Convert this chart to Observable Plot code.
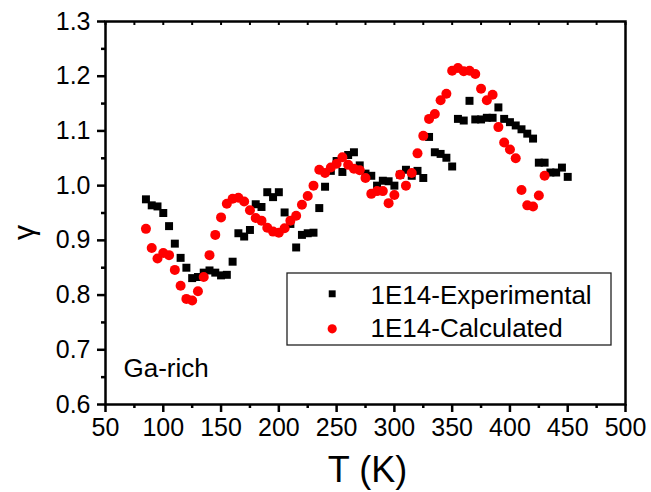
<!DOCTYPE html>
<html>
<head>
<meta charset="utf-8">
<script src="https://cdn.jsdelivr.net/npm/d3@7"></script>
<script src="https://cdn.jsdelivr.net/npm/@observablehq/plot@0.6"></script>
<style>
  body { margin: 0; background: #fff; }
  #chart svg { display: block; }
</style>
</head>
<body>
<div id="chart"></div>
<script>
// Experimental (black squares)
const expT = [85,90,95,100,105,110,115,120,125,130,135,140,145,150,155,160,165,170,175,180,185,190,195,200,205,210,215,220,225,230,235,240,245,250,255,260,265,270,275,280,285,290,295,300,305,310,315,320,325,330,335,340,345,350,355,360,365,370,375,380,385,390,395,400,405,410,415,420,425,430,435,440,445,450];
const expG = [0.975,0.964,0.962,0.950,0.926,0.894,0.868,0.850,0.831,0.833,0.841,0.845,0.841,0.836,0.837,0.861,0.913,0.907,0.919,0.966,0.961,0.988,0.979,0.988,0.951,0.930,0.887,0.910,0.913,0.914,0.959,0.998,1.027,1.045,1.025,1.056,1.061,1.037,1.022,1.018,1.000,1.009,1.008,1.000,1.020,1.029,1.018,1.027,1.014,1.089,1.061,1.058,1.051,1.035,1.122,1.119,1.155,1.121,1.121,1.124,1.124,1.143,1.122,1.116,1.110,1.103,1.095,1.086,1.042,1.042,1.024,1.024,1.033,1.016];

// Calculated (red circles)
const calT = [85,90,95,100,105,110,115,120,125,130,135,140,145,150,155,160,165,170,175,180,185,190,195,200,205,210,215,220,225,230,235,240,245,250,255,260,265,270,275,280,285,290,295,300,305,310,315,320,325,330,335,340,345,350,355,360,365,370,375,380,385,390,395,400,405,410,415,420,425,430];
const calG = [0.921,0.886,0.867,0.877,0.873,0.846,0.817,0.793,0.790,0.807,0.833,0.873,0.910,0.942,0.967,0.976,0.978,0.971,0.955,0.941,0.936,0.923,0.916,0.914,0.922,0.936,0.945,0.965,0.981,1.000,1.029,1.023,1.033,1.040,1.052,1.038,1.031,1.028,1.014,0.985,0.990,0.990,0.968,0.983,1.020,1.000,1.023,1.059,1.091,1.122,1.131,1.156,1.168,1.210,1.215,1.209,1.210,1.204,1.177,1.156,1.166,1.107,1.079,1.066,1.050,0.992,0.964,0.962,0.982,1.018];

const xMajor = [50,100,150,200,250,300,350,400,450,500];
const xMinor = [75,125,175,225,275,325,375,425,475];
const yMajor = [0.6,0.7,0.8,0.9,1.0,1.1,1.2,1.3];
const yMinor = [0.65,0.75,0.85,0.95,1.05,1.15,1.25];
const seriesNames = ["1E14-Experimental", "1E14-Calculated"];
const annotation = "Ga-rich";
const xTitle = "T (K)";
const yTitle = "γ";

const exp = expT.map((t, i) => ({T: t, g: expG[i]}));
const cal = calT.map((t, i) => ({T: t, g: calG[i]}));

const font = "'Liberation Sans', Arial, Helvetica, sans-serif";

const chart = Plot.plot({
  width: 651,
  height: 492,
  marginLeft: 105,
  marginRight: 26,
  marginTop: 21,
  marginBottom: 88,
  style: {fontFamily: font, fontSize: "25px", background: "white", color: "black", overflow: "visible"},
  x: {domain: [50, 500]},
  y: {domain: [0.6, 1.3]},
  marks: [
    Plot.axisX({ticks: xMajor, tickSize: 8, tickPadding: 6, tickFormat: d => String(d), label: null, strokeWidth: 2.5, stroke: "black"}),
    Plot.axisX({ticks: xMinor, tickSize: 4, tickFormat: () => "", label: null, strokeWidth: 2.5, stroke: "black"}),
    Plot.axisX({anchor: "top", ticks: xMajor.concat(xMinor), tickSize: -3, tickFormat: () => "", label: null, strokeWidth: 2, stroke: "black"}),
    Plot.axisY({ticks: yMajor, tickSize: 8, tickPadding: 7, tickFormat: d3.format(".1f"), label: null, strokeWidth: 2.5, stroke: "black"}),
    Plot.axisY({ticks: yMinor, tickSize: 4, tickFormat: () => "", label: null, strokeWidth: 2.5, stroke: "black"}),
    Plot.frame({stroke: "black", strokeWidth: 2.5}),
    Plot.dot(exp, {x: "T", y: "g", symbol: "square", r: 4.5, fill: "black", stroke: "none"}),
    Plot.dot(cal, {x: "T", y: "g", symbol: "circle", r: 5, fill: "#ff0000", stroke: "none"}),
    // annotation
    Plot.text([annotation], {text: d => d, frameAnchor: "bottom-left", dx: 18, dy: -28, textAnchor: "start", lineAnchor: "bottom", fontSize: 26}),
    // axis titles
    Plot.text([xTitle], {text: d => d, frameAnchor: "bottom", dx: 2, dy: 77, lineAnchor: "bottom", fontSize: 36}),
    Plot.text([yTitle], {text: d => d, frameAnchor: "left", dx: -81, dy: 27, rotate: -90, lineAnchor: "middle", fontSize: 30}),
    // legend symbols
    Plot.dot([seriesNames[0]], {frameAnchor: "top-left", dx: 226.7, dy: 272.3, symbol: "square", r: 3.9, fill: "black"}),
    Plot.dot([seriesNames[1]], {frameAnchor: "top-left", dx: 226.7, dy: 307.3, symbol: "circle", r: 4.6, fill: "#ff0000"}),
    Plot.text([seriesNames[0]], {text: d => d, frameAnchor: "top-left", dx: 265, dy: 282.3, textAnchor: "start", lineAnchor: "bottom", fontSize: 26}),
    Plot.text([seriesNames[1]], {text: d => d, frameAnchor: "top-left", dx: 265, dy: 315, textAnchor: "start", lineAnchor: "bottom", fontSize: 26})
  ]
});

// legend box
d3.select(chart).append("rect")
  .attr("x", 287).attr("y", 273).attr("width", 324).attr("height", 72)
  .attr("fill", "none").attr("stroke", "#222").attr("stroke-width", 1.3);

document.getElementById("chart").appendChild(chart);
</script>
</body>
</html>
